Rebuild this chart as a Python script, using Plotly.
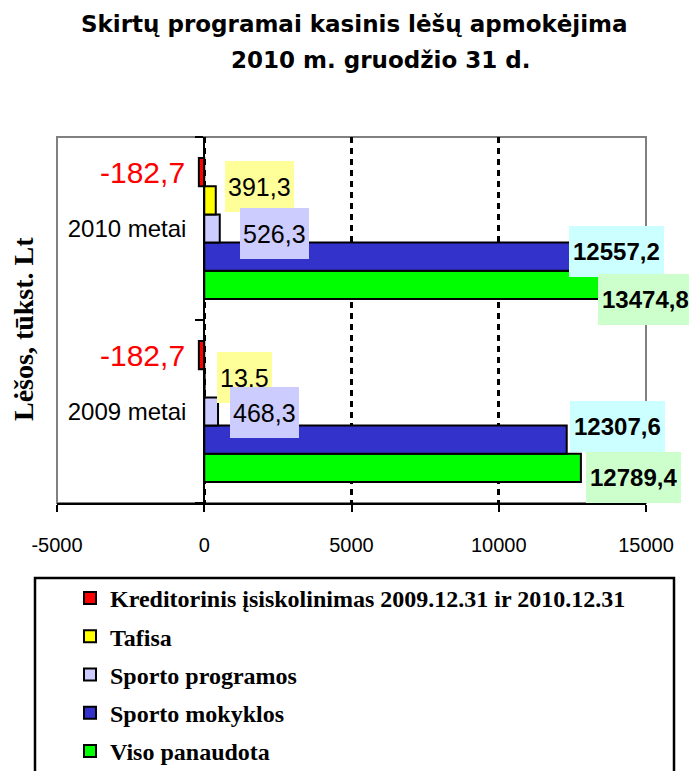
import plotly.graph_objects as go

# ---------------- data ----------------
categories = ["2009 metai", "2010 metai"]
series_names = [
    "Kreditorinis įsiskolinimas 2009.12.31 ir 2010.12.31",
    "Tafisa",
    "Sporto programos",
    "Sporto mokyklos",
    "Viso panaudota",
]
kreditorinis = [-182.7, -182.7]
tafisa = [13.5, 391.3]
sporto_programos = [468.3, 526.3]
sporto_mokyklos = [12307.6, 12557.2]
viso_panaudota = [12789.4, 13474.8]
x_ticks = [-5000, 0, 5000, 10000, 15000]
x_tick_labels = ["-5000", "0", "5000", "10000", "15000"]
title_line1 = "Skirtų programai kasinis lėšų apmokėjima"
title_line2 = "2010 m. gruodžio 31 d."
y_title = "Lėšos, tūkst. Lt"

series_values = [kreditorinis, tafisa, sporto_programos, sporto_mokyklos, viso_panaudota]

# ---------------- styles ----------------
W, H = 689, 771
ML, MR, MT, MB = 57, 43, 137, 268
PW, PH = W - ML - MR, H - MT - MB
XMIN, XMAX = -5000, 15000
BARGAP = 0.23

bar_colors = ["#FF0000", "#FFFF00", "#CCCCFF", "#3333CC", "#00FF00"]
label_bg = [None, "#FFFF99", "#CCCCFF", "#CCFFFF", "#CCFFCC"]
label_font = [
    dict(family="Liberation Sans, Arial", size=30, color="#FF0000"),
    dict(family="Liberation Sans, Arial", size=25, color="black"),
    dict(family="Liberation Sans, Arial", size=25, color="black"),
    dict(family="Liberation Sans, Arial", size=24, color="black", weight="bold"),
    dict(family="Liberation Sans, Arial", size=24, color="black", weight="bold"),
]
label_pad = [0, 3, 3, 4, 4]
# label offsets (px) per series, per category: (dx from bar end, dy from bar centre, up = +)
label_offsets = [
    [(-12.6, 0), (-12.6, 0)],
    [(12.6, 5.8), (9.5, 13.8)],
    [(12.2, -1.0), (20.5, -4.5)],
    [(3.4, 13.2), (-5.0, 4.7)],
    [(5.2, -9.6), (-3.0, -15.0)],
]

def fmt(v):
    return f"{v:.1f}".replace(".", ",")

fig = go.Figure()

# traces added bottom-to-top (first trace is drawn lowest in each group)
for i in reversed(range(len(series_names))):
    fig.add_trace(go.Bar(
        y=categories,
        x=series_values[i],
        orientation="h",
        name=series_names[i],
        legendgroup=f"g{i}",
        legendrank=1000 + i,
        marker=dict(color=bar_colors[i], line=dict(color="black", width=2)),
        hoverinfo="x+name",
    ))

# data labels
band = PH / len(categories)
bar_h = band * (1 - BARGAP) / len(series_names)
annotations = []
for i, vals in enumerate(series_values):
    bar_off = (len(series_names) - 1) / 2 * bar_h - i * bar_h
    for j, cat in enumerate(categories):
        dx, dy = label_offsets[i][j]
        a = dict(
            x=vals[j], y=cat, xref="x", yref="y",
            text=fmt(vals[j]), showarrow=False,
            xanchor="right" if vals[j] < 0 else "left", yanchor="middle",
            xshift=dx, yshift=bar_off + dy,
            font=label_font[i], borderwidth=0,
        )
        if label_bg[i]:
            a.update(bgcolor=label_bg[i], borderpad=label_pad[i], height=51 - 2 * label_pad[i])
        annotations.append(a)

def px_x(p):
    return (p - ML) / PW

def px_y(p):
    return (H - MB - p) / PH

annotations += [
    dict(text=title_line1, x=px_x(354.5), y=px_y(24), xref="paper", yref="paper",
         xanchor="center", yanchor="middle", showarrow=False,
         font=dict(family="DejaVu Sans", size=23, color="black", weight="bold")),
    dict(text=title_line2, x=px_x(380), y=px_y(60), xref="paper", yref="paper",
         xanchor="center", yanchor="middle", showarrow=False,
         font=dict(family="DejaVu Sans", size=23, color="black", weight="bold")),
    dict(text=y_title, x=px_x(23), y=px_y(329), xref="paper", yref="paper",
         xanchor="center", yanchor="middle", showarrow=False, textangle=-90,
         font=dict(family="Liberation Serif, Times New Roman", size=28, color="black", weight="bold")),
]

shapes = [
    # plot area frame
    dict(type="rect", xref="paper", yref="paper", x0=0, y0=0, x1=1, y1=1,
         line=dict(color="#808080", width=2), layer="below"),
    # legend frame
    dict(type="rect", xref="paper", yref="paper",
         x0=px_x(35), x1=px_x(674), y0=px_y(578), y1=px_y(800),
         line=dict(color="black", width=2.5), fillcolor="rgba(0,0,0,0)", layer="above"),
]

fig.update_layout(
    width=W, height=H,
    margin=dict(l=ML, r=MR, t=MT, b=MB, autoexpand=False),
    paper_bgcolor="white", plot_bgcolor="white",
    barmode="group", bargap=BARGAP, bargroupgap=0,
    showlegend=True,
    legend=dict(
        x=px_x(70), xanchor="left", y=px_y(576), yanchor="top",
        font=dict(family="Liberation Serif, Times New Roman", size=24, color="black", weight="bold"),
        traceorder="grouped", tracegroupgap=4,
        bgcolor="rgba(0,0,0,0)", borderwidth=0,
    ),
    annotations=annotations,
    shapes=shapes,
    xaxis=dict(
        range=[XMIN, XMAX], tickmode="array", tickvals=x_ticks, ticktext=x_tick_labels,
        ticks="outside", ticklen=7, tickwidth=2, tickcolor="black",
        showline=True, linecolor="black", linewidth=2,
        showgrid=True, gridcolor="black", gridwidth=2.5, griddash="6px,5px",
        zeroline=False, ticklabelstandoff=16,
        tickfont=dict(family="Liberation Sans, Arial", size=20, color="black"),
    ),
    yaxis=dict(
        type="category", categoryorder="array", categoryarray=categories,
        anchor="free", position=(0 - XMIN) / (XMAX - XMIN),
        showline=True, linecolor="black", linewidth=2,
        ticks="outside", tickson="boundaries", ticklen=8, tickwidth=2, tickcolor="black",
        showgrid=False, zeroline=False, ticklabelstandoff=12,
        tickfont=dict(family="Liberation Sans, Arial", size=24, color="black"),
    ),
)

fig.write_html("out.html", config={"displayModeBar": False},
               post_script="document.body.style.margin='0px';")
